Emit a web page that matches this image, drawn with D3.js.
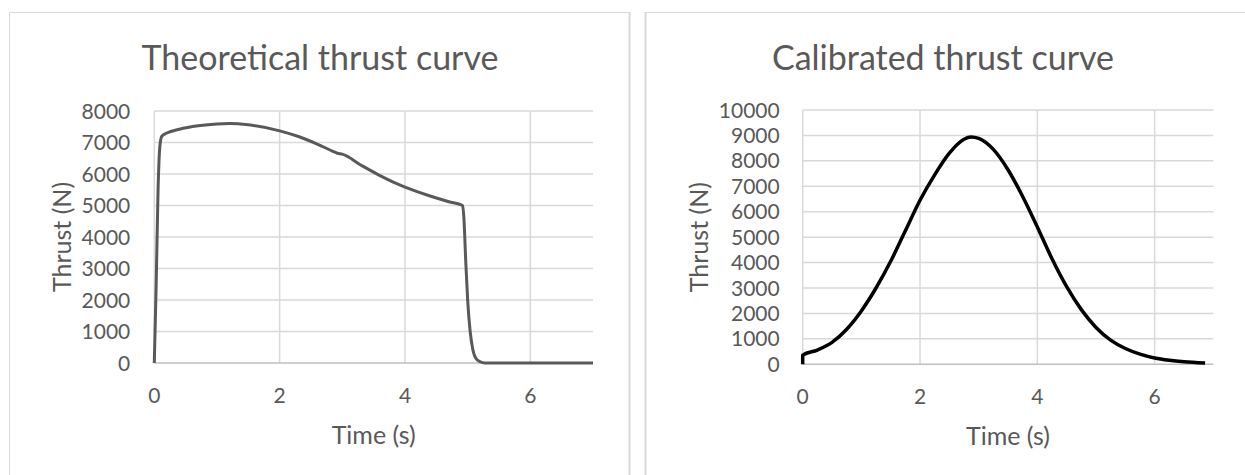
<!DOCTYPE html>
<html>
<head>
<meta charset="utf-8">
<script src="https://cdn.jsdelivr.net/npm/d3@7"></script>
<style>
  body { margin: 0; background: #fff; }
  svg { display: block; font-family: Lato, "Open Sans", sans-serif; }
</style>
</head>
<body>
<div id="chart"></div>
<script>
// theoretical thrust curve (s, N)
const theoTime = [0, 0.03, 0.06, 0.09, 0.12, 0.2, 0.4, 0.7, 1.0, 1.2, 1.5, 2.0, 2.3, 2.6, 2.85, 2.92, 3.0, 3.3, 3.6, 4.0, 4.4, 4.7, 4.92, 4.94, 4.97, 5.0, 5.04, 5.08, 5.13, 5.2, 5.27, 6, 7];
const theoThrust = [0, 2500, 5500, 6900, 7200, 7300, 7420, 7530, 7590, 7600, 7560, 7370, 7190, 6950, 6720, 6660, 6630, 6280, 5950, 5580, 5300, 5120, 5000, 4600, 3200, 2000, 1000, 450, 150, 40, 0, 0, 0];

// calibrated thrust curve (s, N)
const calTime = [0, 0, 0.25, 0.5, 0.75, 1.0, 1.25, 1.5, 1.75, 2.0, 2.25, 2.5, 2.75, 2.87, 3.0, 3.25, 3.5, 3.75, 4.0, 4.25, 4.5, 4.75, 5.0, 5.25, 5.5, 5.75, 6.0, 6.25, 6.5, 6.86];
const calThrust = [0, 360, 560, 860, 1380, 2100, 3000, 4050, 5250, 6450, 7450, 8300, 8850, 8940, 8880, 8450, 7650, 6600, 5400, 4150, 3050, 2150, 1450, 950, 620, 400, 250, 160, 100, 50];

const xTicks = [0, 2, 4, 6];
const theoYTicks = [0, 1000, 2000, 3000, 4000, 5000, 6000, 7000, 8000];
const calYTicks = [0, 1000, 2000, 3000, 4000, 5000, 6000, 7000, 8000, 9000, 10000];

const W = 1245, H = 475;
const textColor = "#595959";
const gridColor = "#d9d9d9";

const svg = d3.select("#chart").append("svg")
    .attr("width", W)
    .attr("height", H);

svg.append("rect").attr("width", W).attr("height", H).attr("fill", "#fff");

// panel frames
svg.append("path")
    .attr("d", "M9.5,475V12.5H629")
    .attr("fill", "none").attr("stroke", gridColor).attr("stroke-width", 1);
svg.append("line")
    .attr("x1", 629.5).attr("x2", 629.5).attr("y1", 12).attr("y2", 475)
    .attr("stroke", gridColor).attr("stroke-width", 2);
svg.append("path")
    .attr("d", "M645.5,475V12.5H1245")
    .attr("fill", "none").attr("stroke", gridColor).attr("stroke-width", 1);
svg.append("line")
    .attr("x1", 645.5).attr("x2", 645.5).attr("y1", 12).attr("y2", 475)
    .attr("stroke", gridColor).attr("stroke-width", 2);

function drawChart(cfg) {
    const x = d3.scaleLinear().domain([0, 7]).range([cfg.left, cfg.right]);
    const y = d3.scaleLinear().domain([0, cfg.yMax]).range([cfg.bottom, cfg.top]);
    const g = svg.append("g");

    // grid
    g.append("g").selectAll("line")
        .data(cfg.yTicks.filter(d => d > 0))
        .join("line")
        .attr("x1", cfg.left).attr("x2", cfg.right)
        .attr("y1", d => y(d)).attr("y2", d => y(d))
        .attr("stroke", gridColor).attr("stroke-width", 1.5);
    g.append("g").selectAll("line")
        .data(xTicks)
        .join("line")
        .attr("x1", d => x(d)).attr("x2", d => x(d))
        .attr("y1", cfg.top).attr("y2", cfg.bottom)
        .attr("stroke", gridColor).attr("stroke-width", 1.5);
    g.append("line")
        .attr("x1", cfg.left).attr("x2", cfg.right)
        .attr("y1", y(0)).attr("y2", y(0))
        .attr("stroke", "#bfbfbf").attr("stroke-width", 1.5);

    // tick labels
    g.append("g").selectAll("text")
        .data(cfg.yTicks)
        .join("text")
        .attr("x", cfg.left - cfg.yLabelGap)
        .attr("y", d => y(d))
        .attr("dy", "0.36em")
        .attr("text-anchor", "end")
        .attr("fill", textColor)
        .style("font-size", "21px")
        .text(d => d);
    g.append("g").selectAll("text")
        .data(xTicks)
        .join("text")
        .attr("x", d => x(d))
        .attr("y", cfg.bottom + 32)
        .attr("dy", "0.36em")
        .attr("text-anchor", "middle")
        .attr("fill", textColor)
        .style("font-size", "21px")
        .text(d => d);

    // titles
    g.append("text")
        .attr("x", cfg.titleX).attr("y", 70)
        .attr("text-anchor", "middle")
        .attr("fill", textColor)
        .style("font-size", "34px")
        .text(cfg.title);
    g.append("text")
        .attr("x", (cfg.left + cfg.right) / 2).attr("y", cfg.bottom + 72)
        .attr("dy", "0.36em")
        .attr("text-anchor", "middle")
        .attr("fill", textColor)
        .style("font-size", "25px")
        .text("Time (s)");
    g.append("text")
        .attr("transform", `translate(${cfg.yTitleX},${(cfg.top + cfg.bottom) / 2}) rotate(-90)`)
        .attr("dy", "0.36em")
        .attr("text-anchor", "middle")
        .attr("fill", textColor)
        .style("font-size", "25px")
        .text("Thrust (N)");

    // curve
    const line = d3.line()
        .x(i => x(cfg.time[i]))
        .y(i => y(cfg.thrust[i]))
        .curve(d3.curveMonotoneX);
    g.append("path")
        .attr("d", line(d3.range(cfg.time.length)))
        .attr("fill", "none")
        .attr("stroke", cfg.color)
        .attr("stroke-width", cfg.strokeWidth)
        .attr("stroke-linejoin", "round");
}

drawChart({
    title: "Theoretical thrust curve",
    titleX: 320,
    left: 154.3, right: 593, top: 111, bottom: 363,
    yMax: 8000, yTicks: theoYTicks, yLabelGap: 24, yTitleX: 62,
    time: theoTime, thrust: theoThrust,
    color: "#595959", strokeWidth: 3
});

drawChart({
    title: "Calibrated thrust curve",
    titleX: 943,
    left: 802.7, right: 1213.3, top: 110, bottom: 364.3,
    yMax: 10000, yTicks: calYTicks, yLabelGap: 23, yTitleX: 699,
    time: calTime, thrust: calThrust,
    color: "#000", strokeWidth: 3.5
});
</script>
</body>
</html>
